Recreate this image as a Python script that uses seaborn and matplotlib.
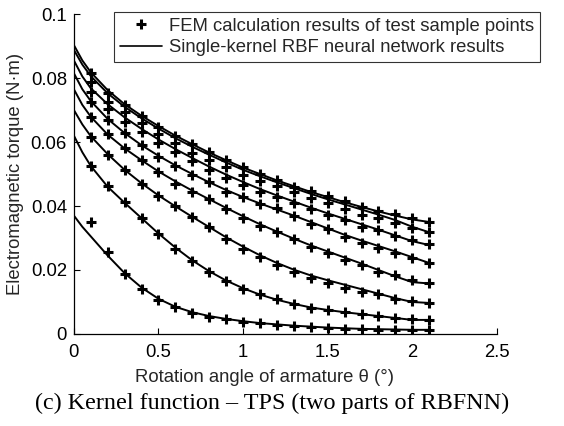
import numpy as np
import pandas as pd
import matplotlib
matplotlib.use("Agg")
import matplotlib.pyplot as plt
from matplotlib.lines import Line2D
import seaborn as sns

# ---- data: FEM sample points (x = 0.1 ... 2.1) ----
x_pts = [0.1, 0.2, 0.3, 0.4, 0.5, 0.6, 0.7, 0.8, 0.9, 1.0, 1.1,
         1.2, 1.3, 1.4, 1.5, 1.6, 1.7, 1.8, 1.9, 2.0, 2.1]

fem_1 = [0.0351, 0.0257, 0.0188, 0.0141, 0.0106, 0.0083, 0.0067, 0.0054, 0.0046, 0.0039, 0.0033,
         0.0029, 0.0025, 0.0021, 0.0019, 0.0017, 0.0015, 0.0014, 0.0013, 0.0012, 0.0012]
fem_2 = [0.0525, 0.0464, 0.0411, 0.0364, 0.0311, 0.0266, 0.0227, 0.0195, 0.0167, 0.0140, 0.0125,
         0.0109, 0.0093, 0.0080, 0.0075, 0.0070, 0.0063, 0.0056, 0.0049, 0.0046, 0.0044]
fem_3 = [0.0617, 0.0560, 0.0513, 0.0470, 0.0432, 0.0400, 0.0367, 0.0333, 0.0298, 0.0267, 0.0240,
         0.0216, 0.0195, 0.0174, 0.0158, 0.0145, 0.0130, 0.0124, 0.0108, 0.0103, 0.0096]
fem_4 = [0.0677, 0.0624, 0.0580, 0.0544, 0.0505, 0.0470, 0.0445, 0.0421, 0.0390, 0.0362, 0.0338,
         0.0320, 0.0298, 0.0273, 0.0252, 0.0231, 0.0216, 0.0195, 0.0184, 0.0169, 0.0158]
fem_5 = [0.0726, 0.0669, 0.0627, 0.0590, 0.0554, 0.0525, 0.0497, 0.0476, 0.0445, 0.0429, 0.0406,
         0.0393, 0.0370, 0.0343, 0.0327, 0.0304, 0.0285, 0.0268, 0.0252, 0.0237, 0.0221]
fem_6 = [0.0757, 0.0702, 0.0663, 0.0630, 0.0596, 0.0568, 0.0541, 0.0513, 0.0487, 0.0466, 0.0445,
         0.0427, 0.0408, 0.0390, 0.0372, 0.0356, 0.0335, 0.0325, 0.0306, 0.0294, 0.0281]
fem_7 = [0.0789, 0.0726, 0.0695, 0.0660, 0.0625, 0.0598, 0.0567, 0.0544, 0.0521, 0.0497, 0.0478,
         0.0463, 0.0445, 0.0424, 0.0408, 0.0390, 0.0372, 0.0361, 0.0346, 0.0332, 0.0320]
fem_8 = [0.0815, 0.0754, 0.0715, 0.0680, 0.0648, 0.0618, 0.0594, 0.0570, 0.0544, 0.0521, 0.0499,
         0.0481, 0.0460, 0.0447, 0.0431, 0.0417, 0.0398, 0.0385, 0.0375, 0.0361, 0.0351]

# ---- data: RBF neural network results (lines) ----
x_line = [0.0, 0.05, 0.1, 0.2, 0.3, 0.4, 0.5, 0.6, 0.7, 0.8, 0.9, 1.0,
          1.1, 1.2, 1.3, 1.4, 1.5, 1.6, 1.7, 1.8, 1.9, 2.0, 2.1]

rbf_1 = [0.0370, 0.0335, 0.0305, 0.0245, 0.0190, 0.0145, 0.0110, 0.0085, 0.0068, 0.0056, 0.0047, 0.0040,
         0.0034, 0.0030, 0.0026, 0.0023, 0.0020, 0.0018, 0.0016, 0.0015, 0.0014, 0.0013, 0.0013]
rbf_2 = [0.0620, 0.0568, 0.0525, 0.0460, 0.0410, 0.0362, 0.0314, 0.0270, 0.0230, 0.0196, 0.0167, 0.0143,
         0.0123, 0.0107, 0.0094, 0.0083, 0.0075, 0.0068, 0.0062, 0.0056, 0.0050, 0.0044, 0.0044]
rbf_3 = [0.0700, 0.0655, 0.0618, 0.0562, 0.0513, 0.0471, 0.0433, 0.0399, 0.0366, 0.0334, 0.0302, 0.0273,
         0.0246, 0.0222, 0.0201, 0.0183, 0.0168, 0.0154, 0.0140, 0.0126, 0.0112, 0.0100, 0.0097]
rbf_4 = [0.0765, 0.0716, 0.0679, 0.0623, 0.0580, 0.0543, 0.0508, 0.0477, 0.0448, 0.0421, 0.0394, 0.0368,
         0.0343, 0.0320, 0.0298, 0.0277, 0.0258, 0.0239, 0.0220, 0.0200, 0.0180, 0.0162, 0.0158]
rbf_5 = [0.0815, 0.0765, 0.0728, 0.0672, 0.0628, 0.0590, 0.0557, 0.0527, 0.0500, 0.0474, 0.0450, 0.0428,
         0.0408, 0.0389, 0.0370, 0.0350, 0.0330, 0.0310, 0.0292, 0.0275, 0.0258, 0.0240, 0.0222]
rbf_6 = [0.0855, 0.0805, 0.0768, 0.0718, 0.0677, 0.0641, 0.0608, 0.0578, 0.0550, 0.0523, 0.0498, 0.0475,
         0.0453, 0.0433, 0.0414, 0.0395, 0.0377, 0.0360, 0.0343, 0.0326, 0.0308, 0.0290, 0.0278]
rbf_7 = [0.0888, 0.0842, 0.0806, 0.0752, 0.0710, 0.0674, 0.0642, 0.0612, 0.0585, 0.0560, 0.0536, 0.0513,
         0.0493, 0.0474, 0.0456, 0.0438, 0.0421, 0.0405, 0.0389, 0.0373, 0.0356, 0.0335, 0.0318]
rbf_8 = [0.0903, 0.0855, 0.0818, 0.0762, 0.0718, 0.0682, 0.0650, 0.0620, 0.0593, 0.0567, 0.0543, 0.0520,
         0.0500, 0.0480, 0.0462, 0.0444, 0.0428, 0.0412, 0.0397, 0.0383, 0.0370, 0.0358, 0.0350]

x_ticks = [0, 0.5, 1, 1.5, 2, 2.5]
x_tick_labels = ["0", "0.5", "1", "1.5", "2", "2.5"]
y_ticks = [0, 0.02, 0.04, 0.06, 0.08, 0.1]
y_tick_labels = ["0", "0.02", "0.04", "0.06", "0.08", "0.1"]

fem_all = [fem_1, fem_2, fem_3, fem_4, fem_5, fem_6, fem_7, fem_8]
rbf_all = [rbf_1, rbf_2, rbf_3, rbf_4, rbf_5, rbf_6, rbf_7, rbf_8]

pts_df = pd.concat([pd.DataFrame({"x": x_pts, "y": v, "curve": i}) for i, v in enumerate(fem_all)],
                   ignore_index=True)
line_df = pd.concat([pd.DataFrame({"x": x_line, "y": v, "curve": i}) for i, v in enumerate(rbf_all)],
                    ignore_index=True)

sns.set_theme(style="ticks")
plt.rcParams["font.family"] = ["Liberation Sans", "DejaVu Sans"]

FS = 13.3
fig = plt.figure(figsize=(5.64, 4.26), dpi=100)
ax = fig.add_axes([0.131, 0.216, 0.750, 0.751])

sns.lineplot(data=line_df, x="x", y="y", units="curve", estimator=None, color="black",
             linewidth=1.4, ax=ax, legend=False, sort=False)
sns.scatterplot(data=pts_df, x="x", y="y", marker="+", color="black", s=42, linewidth=2.2,
                ax=ax, legend=False, zorder=3)

ax.set_xlim(0, 2.5)
ax.set_ylim(0, 0.1)
ax.set_xticks(x_ticks)
ax.set_xticklabels(x_tick_labels)
ax.set_yticks(y_ticks)
ax.set_yticklabels(y_tick_labels)
ax.tick_params(axis="x", direction="in", length=4, width=0.8, labelsize=FS, colors="black", pad=7)
ax.tick_params(axis="y", direction="in", length=4, width=0.8, labelsize=FS, colors="black", pad=5)
for s in ["top", "right"]:
    ax.spines[s].set_visible(False)
for s in ["left", "bottom"]:
    ax.spines[s].set_color("black")
    ax.spines[s].set_linewidth(0.9)

ax.set_xlabel("Rotation angle of armature θ (°)", fontsize=FS)
ax.xaxis.set_label_coords((265 - 74) / 423, -0.137)
ax.xaxis.label.set_va("center")
ax.set_ylabel("Electromagnetic torque (N·m)", fontsize=FS, labelpad=5)

handles = [Line2D([], [], linestyle="none", marker="+", color="black", markersize=7, markeredgewidth=2.2),
           Line2D([], [], color="black", linewidth=1.2)]
leg = ax.legend(handles, ["FEM calculation results of test sample points",
                          "Single-kernel RBF neural network results"],
                loc="upper left", bbox_to_anchor=(114 / 564, 1 - 12 / 426),
                bbox_transform=fig.transFigure, fontsize=FS, frameon=True,
                fancybox=False, edgecolor="black", borderpad=0.3, handlelength=2.3,
                handletextpad=0.4, labelspacing=0.25, borderaxespad=0.0)
leg.get_frame().set_linewidth(0.8)

fig.text(0.483, 0.053, "(c) Kernel function – TPS (two parts of RBFNN)",
         family=["Liberation Serif", "DejaVu Serif"], fontsize=17.4, ha="center", va="center", color="black")

fig.savefig("out.png", dpi=100)
